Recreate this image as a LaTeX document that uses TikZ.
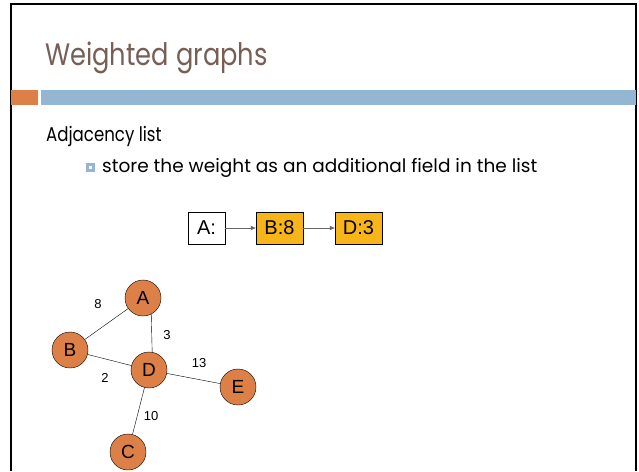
\documentclass[tikz,border=0pt]{standalone}
\usepackage{fontspec}
\setmainfont{Poppins}
\newfontfamily\titlefont[FakeStretch=0.83]{Poppins}
\newfontfamily\arialfont{Liberation Sans}
\usetikzlibrary{arrows.meta}
\definecolor{slidebrown}{HTML}{775F55}
\definecolor{slideorange}{HTML}{DD8047}
\definecolor{slideblue}{HTML}{94B6D2}
\definecolor{listyellow}{HTML}{F7B519}
\begin{document}
\begin{tikzpicture}[
        x=1pt, y=-1pt,
        vertex/.style={draw, circle, fill=slideorange, minimum size=36pt, inner sep=0pt, font=\arialfont\fontsize{19}{19}\selectfont},
        cell/.style={draw, rectangle, minimum height=32pt, inner sep=0pt, font=\arialfont\fontsize{20}{20}\selectfont},
        weight/.style={font=\arialfont\fontsize{13}{13}\selectfont},
        link/.style={-{Triangle[length=5pt,width=4pt]}, draw=gray!80!black, line width=0.6pt}
    ]
\useasboundingbox (0,0) rectangle (639,471);
\fill[white] (0,0) rectangle (639,471);

        \draw[line width=2.5pt] (11,471) -- (11,4) -- (636,4) -- (636,471);
        \fill[slideorange] (11,90) rectangle (38,105);
        \fill[slideblue] (41,90) rectangle (636,105);

        \node[anchor=base west, text=slidebrown, font=\titlefont\fontsize{31}{31}\selectfont, inner sep=0pt] (title) at (45,65) {Weighted graphs};
        \node[anchor=base west, font=\titlefont\fontsize{20}{20}\selectfont, inner sep=0pt] (topic) at (46,141) {Adjacency list};
        \node[draw=slideblue, fill=white, line width=3pt, minimum size=6pt, inner sep=0pt] (bullet) at (90.5,167) {};
        \node[anchor=base west, font=\fontsize{18.5}{18.5}\selectfont, inner sep=0pt] (point) at (102,172) {store the weight as an additional field in the list};

        \node[cell, fill=white, minimum width=37pt] (headA) at (206.5,228) {A:};
        \node[cell, fill=listyellow, minimum width=47pt] (cellB) at (279.5,228) {B:8};
        \node[cell, fill=listyellow, minimum width=47pt] (cellD) at (358.5,228) {D:3};
        \draw[link] (headA) -- (cellB);
        \draw[link] (cellB) -- (cellD);

        \node[vertex] (A) at (143,298) {A};
        \node[vertex] (B) at (70,350) {B};
        \node[vertex] (D) at (149,370) {D};
        \node[vertex] (E) at (238,387) {E};
        \node[vertex] (C) at (128,452) {C};

        \draw (A) -- (B);
        \draw (A.-63) -- (D.80);
        \draw (B) -- (D);
        \draw (D) -- (E);
        \draw (D) -- (C);

        \node[weight] (wAB) at (98,304) {8};
        \node[weight] (wAD) at (167,335) {3};
        \node[weight] (wDE) at (199,363) {13};
        \node[weight] (wBD) at (105,378) {2};
        \node[weight] (wDC) at (151,416) {10};

    \end{tikzpicture}
\end{document}
